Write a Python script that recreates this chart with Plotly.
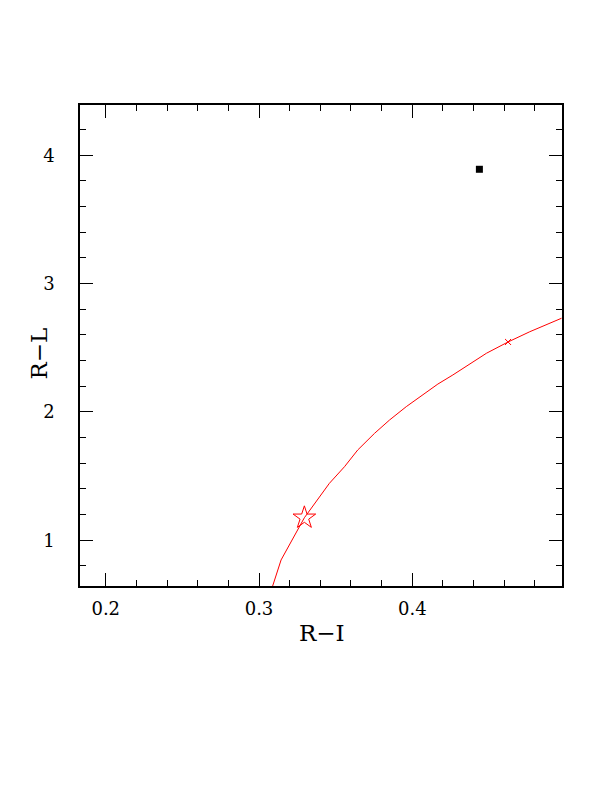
import plotly.graph_objects as go

# Model track (R-I, R-L)
track_ri = [0.3089, 0.3144, 0.3296, 0.3340, 0.3459, 0.3558, 0.3644, 0.3754, 0.3852,
            0.3961, 0.4069, 0.4167, 0.4265, 0.4484, 0.4625, 0.4767, 0.4974]
track_rl = [0.643, 0.846, 1.175, 1.249, 1.443, 1.573, 1.703, 1.833, 1.937,
            2.041, 2.132, 2.217, 2.288, 2.457, 2.545, 2.625, 2.730]

star_ri = [0.3296]
star_rl = [1.175]

cross_ri = [0.4625]
cross_rl = [2.545]

obs_ri = [0.4438]
obs_rl = [3.891]

x_ticks = [0.2, 0.3, 0.4]
x_ticklabels = ["0.2", "0.3", "0.4"]
y_ticks = [1, 2, 3, 4]
y_ticklabels = ["1", "2", "3", "4"]

fig = go.Figure()
fig.add_trace(go.Scatter(x=track_ri, y=track_rl, mode="lines",
                         line=dict(color="red", width=1), showlegend=False))
fig.add_trace(go.Scatter(x=star_ri, y=star_rl, mode="markers",
                         marker=dict(symbol="star-open", size=17, color="red",
                                     line=dict(color="red", width=1)), showlegend=False))
fig.add_trace(go.Scatter(x=cross_ri, y=cross_rl, mode="markers",
                         marker=dict(symbol="x-thin-open", size=6, color="red",
                                     line=dict(color="red", width=1)), showlegend=False))
fig.add_trace(go.Scatter(x=obs_ri, y=obs_rl, mode="markers",
                         marker=dict(symbol="square", size=7, color="black",
                                     line=dict(width=0)), showlegend=False))

font_family = "DejaVu Serif"
axis_common = dict(showgrid=False, zeroline=False, showline=True, linecolor="black",
                   linewidth=1.5, mirror="allticks", ticks="inside", ticklen=13,
                   tickwidth=1.2, tickcolor="black",
                   tickfont=dict(family=font_family, size=18, color="black"))

fig.update_xaxes(range=[0.1832, 0.4977], tickvals=x_ticks, ticktext=x_ticklabels,
                 minor=dict(ticks="inside", ticklen=6, dtick=0.02, tick0=0,
                            tickcolor="black", tickwidth=1.2),
                 ticklabelstandoff=6,
                 **axis_common)
fig.update_yaxes(range=[0.643, 4.392], tickvals=y_ticks, ticktext=y_ticklabels,
                 minor=dict(ticks="inside", ticklen=6, dtick=0.2, tick0=0,
                            tickcolor="black", tickwidth=1.2),
                 ticklabelstandoff=20,
                 **axis_common)

title_font = dict(family=font_family, size=23, color="black")
fig.add_annotation(text="R\u2212I", xref="paper", yref="paper", x=0.5, y=0,
                   xanchor="center", yanchor="middle", yshift=-47, xshift=1,
                   showarrow=False, font=title_font)
fig.add_annotation(text="R\u2212L", xref="paper", yref="paper", x=0, y=0.5,
                   xanchor="center", yanchor="middle", xshift=-42, yshift=-8,
                   textangle=-90, showarrow=False, font=title_font)

fig.update_layout(width=612, height=792, paper_bgcolor="white", plot_bgcolor="white",
                  margin=dict(l=72, r=58, t=97, b=214), showlegend=False)

fig.write_html("out.html")
